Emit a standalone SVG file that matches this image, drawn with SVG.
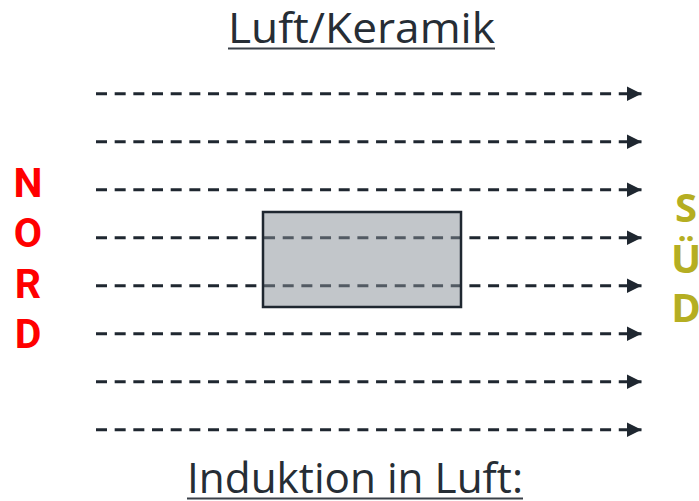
<svg xmlns="http://www.w3.org/2000/svg" width="699" height="501" viewBox="0 0 699 501">
<defs>
<marker id="ah" markerUnits="userSpaceOnUse" markerWidth="16" markerHeight="16" refX="15" refY="7.5" orient="auto">
<path d="M0,0 L15,7.5 L0,15 Z" fill="#1f2730"/>
</marker>
<style>
.fl{stroke:#1f2730;stroke-width:3;stroke-dasharray:11 7.67;fill:none}
.ttl{font-family:"Open Sans","Liberation Sans",sans-serif;font-size:42px;fill:#262d35;text-anchor:middle}
.ul{stroke:#3a4048;stroke-width:2}
.n{font-family:"Roboto","Liberation Sans",sans-serif;font-weight:bold;font-size:41px;fill:#ff0000;text-anchor:middle}
.s{font-family:"Open Sans","Liberation Sans",sans-serif;font-weight:bold;font-size:40px;fill:#b5ae22;text-anchor:middle}
</style>
</defs>
<g id="title">
<text class="ttl" x="361.5" y="43" textLength="267" lengthAdjust="spacingAndGlyphs">Luft/Keramik</text>
<line class="ul" x1="228" y1="48.5" x2="495" y2="48.5"/>
</g>
<g id="connectors">
<line class="fl" x1="96" y1="93.7" x2="641.5" y2="93.7" marker-end="url(#ah)"/>
<line class="fl" x1="96" y1="141.7" x2="641.5" y2="141.7" marker-end="url(#ah)"/>
<line class="fl" x1="96" y1="189.7" x2="641.5" y2="189.7" marker-end="url(#ah)"/>
<line class="fl" x1="96" y1="237.7" x2="641.5" y2="237.7" marker-end="url(#ah)"/>
<line class="fl" x1="96" y1="285.7" x2="641.5" y2="285.7" marker-end="url(#ah)"/>
<line class="fl" x1="96" y1="333.7" x2="641.5" y2="333.7" marker-end="url(#ah)"/>
<line class="fl" x1="96" y1="381.7" x2="641.5" y2="381.7" marker-end="url(#ah)"/>
<line class="fl" x1="96" y1="429.7" x2="641.5" y2="429.7" marker-end="url(#ah)"/>
</g>
<g id="block">
<rect x="263" y="212" width="198" height="95" fill="#858d95" fill-opacity="0.5" stroke="#1f2730" stroke-width="2.5"/>
</g>
<g id="nord">
<text class="n" x="28" y="197">N</text>
<text class="n" x="28" y="247">O</text>
<text class="n" x="28" y="298">R</text>
<text class="n" x="28" y="348">D</text>
</g>
<g id="sued">
<text class="s" x="686" y="222">S</text>
<text class="s" x="686" y="273">Ü</text>
<text class="s" x="686" y="322">D</text>
</g>
<g id="bottom">
<text class="ttl" x="355" y="493" textLength="336" lengthAdjust="spacingAndGlyphs">Induktion in Luft:</text>
<line class="ul" x1="187" y1="498.5" x2="523" y2="498.5"/>
</g>
</svg>
